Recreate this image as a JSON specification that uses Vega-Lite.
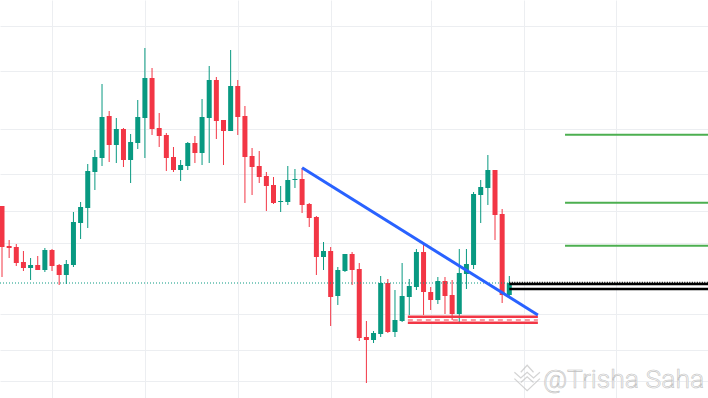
{
  "$schema": "https://vega.github.io/schema/vega-lite/v6.json",
  "width": 708,
  "height": 398,
  "autosize": {"type": "none"},
  "padding": 0,
  "background": "#ffffff",
  "config": {"view": {"stroke": null}},
  "datasets": {
    "candles": [
      {"t":0,"o":194,"h":194,"l":123,"c":153},
      {"t":1,"o":154,"h":160,"l":142,"c":152},
      {"t":2,"o":153,"h":156,"l":134,"c":137},
      {"t":3,"o":138,"h":149,"l":129,"c":132},
      {"t":4,"o":132,"h":142,"l":120,"c":135},
      {"t":5,"o":135,"h":144,"l":130,"c":130},
      {"t":6,"o":130,"h":152,"l":128,"c":150},
      {"t":7,"o":150,"h":151,"l":129,"c":134},
      {"t":8,"o":135,"h":136,"l":115,"c":125},
      {"t":9,"o":125,"h":140,"l":116,"c":136},
      {"t":10,"o":135,"h":188,"l":133,"c":178},
      {"t":11,"o":177,"h":198,"l":161,"c":193},
      {"t":12,"o":192,"h":236,"l":172,"c":229},
      {"t":13,"o":228,"h":250,"l":210,"c":243},
      {"t":14,"o":242,"h":316,"l":234,"c":283},
      {"t":15,"o":284,"h":289,"l":238,"c":255},
      {"t":16,"o":255,"h":282,"l":237,"c":271},
      {"t":17,"o":271,"h":272,"l":233,"c":240},
      {"t":18,"o":240,"h":266,"l":217,"c":258},
      {"t":19,"o":257,"h":300,"l":251,"c":283},
      {"t":20,"o":282,"h":352,"l":242,"c":322},
      {"t":21,"o":322,"h":332,"l":265,"c":271},
      {"t":22,"o":272,"h":287,"l":253,"c":264},
      {"t":23,"o":265,"h":267,"l":229,"c":242},
      {"t":24,"o":243,"h":253,"l":228,"c":230},
      {"t":25,"o":230,"h":240,"l":219,"c":235},
      {"t":26,"o":234,"h":258,"l":230,"c":257},
      {"t":27,"o":257,"h":264,"l":237,"c":247},
      {"t":28,"o":247,"h":301,"l":235,"c":283},
      {"t":29,"o":282,"h":334,"l":237,"c":320},
      {"t":30,"o":320,"h":323,"l":261,"c":279},
      {"t":31,"o":280,"h":280,"l":235,"c":269},
      {"t":32,"o":269,"h":350,"l":269,"c":314},
      {"t":33,"o":314,"h":320,"l":265,"c":283},
      {"t":34,"o":284,"h":294,"l":197,"c":243},
      {"t":35,"o":244,"h":252,"l":205,"c":233},
      {"t":36,"o":234,"h":249,"l":217,"c":223},
      {"t":37,"o":224,"h":228,"l":189,"c":214},
      {"t":38,"o":215,"h":223,"l":196,"c":197},
      {"t":39,"o":198,"h":214,"l":188,"c":199},
      {"t":40,"o":198,"h":234,"l":195,"c":220},
      {"t":41,"o":220,"h":231,"l":212,"c":221},
      {"t":42,"o":221,"h":232,"l":187,"c":195},
      {"t":43,"o":196,"h":197,"l":173,"c":182},
      {"t":44,"o":183,"h":184,"l":125,"c":143},
      {"t":45,"o":143,"h":158,"l":130,"c":149},
      {"t":46,"o":149,"h":153,"l":74,"c":103},
      {"t":47,"o":104,"h":133,"l":95,"c":130},
      {"t":48,"o":129,"h":146,"l":128,"c":146},
      {"t":49,"o":146,"h":148,"l":115,"c":130},
      {"t":50,"o":131,"h":137,"l":59,"c":62},
      {"t":51,"o":63,"h":79,"l":17,"c":60},
      {"t":52,"o":60,"h":69,"l":57,"c":67},
      {"t":53,"o":66,"h":124,"l":63,"c":117},
      {"t":54,"o":117,"h":121,"l":67,"c":68},
      {"t":55,"o":68,"h":110,"l":63,"c":80},
      {"t":56,"o":79,"h":137,"l":78,"c":104},
      {"t":57,"o":103,"h":121,"l":85,"c":114},
      {"t":58,"o":113,"h":151,"l":110,"c":148},
      {"t":59,"o":148,"h":156,"l":85,"c":108},
      {"t":60,"o":108,"h":113,"l":90,"c":100},
      {"t":61,"o":100,"h":123,"l":96,"c":119},
      {"t":62,"o":119,"h":123,"l":86,"c":104},
      {"t":63,"o":105,"h":120,"l":80,"c":86},
      {"t":64,"o":86,"h":151,"l":78,"c":127},
      {"t":65,"o":126,"h":151,"l":111,"c":136},
      {"t":66,"o":135,"h":208,"l":131,"c":206},
      {"t":67,"o":205,"h":220,"l":177,"c":213},
      {"t":68,"o":212,"h":245,"l":195,"c":230},
      {"t":69,"o":230,"h":230,"l":160,"c":185},
      {"t":70,"o":186,"h":191,"l":97,"c":105},
      {"t":71,"o":105,"h":124,"l":103,"c":117}
    ],
    "targets": [
      {"x1": 78.8, "x2": 98.81, "y": 265.3},
      {"x1": 78.8, "x2": 98.81, "y": 197.3},
      {"x1": 78.8, "x2": 98.81, "y": 154.3}
    ],
    "blackLines": [
      {"x1": 71, "x2": 98.81, "y": 116},
      {"x1": 71, "x2": 98.81, "y": 111}
    ],
    "priceTeal": [{"x1": -0.28, "x2": 71, "y": 117}],
    "priceBlack": [{"x1": 71, "x2": 98.81, "y": 117.6}],
    "supportSolid": [
      {"x1": 56.8, "x2": 75.0, "y": 83.3},
      {"x1": 56.8, "x2": 75.0, "y": 77.3}
    ],
    "supportDashed": [{"x1": 56.8, "x2": 75.0, "y": 80}],
    "trend": [{"x1": 42, "y1": 232.3, "x2": 75.0, "y2": 85}],
    "mark": [{"x": 75.7, "y": 12, "label": "@Trisha Saha"}],
    "logo": [{"x": 73.5, "y": 22}]
  },
  "layer": [
    {
      "data": {"name": "candles"},
      "mark": {"type": "rule", "strokeWidth": 1},
      "encoding": {
        "x": {"field": "t", "type": "quantitative",
              "scale": {"domain": [-0.28, 98.81], "nice": false, "zero": false, "padding": 0},
              "axis": {"values": [7, 20, 33, 46, 60, 73, 86], "grid": true, "gridColor": "#eceef1", "gridWidth": 1, "labels": false, "ticks": false, "domain": false, "title": null}},
        "y": {"field": "l", "type": "quantitative",
              "scale": {"domain": [2, 400], "nice": false, "zero": false, "padding": 0},
              "axis": {"values": [374, 329, 271, 226, 189, 157, 86, 50, 19], "grid": true, "gridColor": "#eceef1", "gridWidth": 1, "labels": false, "ticks": false, "domain": false, "title": null}},
        "y2": {"field": "h"},
        "color": {"condition": {"test": "datum.c >= datum.o", "value": "#089981"}, "value": "#f23645"}
      }
    },
    {
      "data": {"name": "candles"},
      "mark": {"type": "bar", "size": 5, "minBandSize": 1},
      "encoding": {
        "x": {"field": "t", "type": "quantitative"},
        "y": {"field": "o", "type": "quantitative"},
        "y2": {"field": "c"},
        "color": {"condition": {"test": "datum.c >= datum.o", "value": "#089981"}, "value": "#f23645"}
      }
    },
    {
      "data": {"name": "priceTeal"},
      "mark": {"type": "rule", "color": "#089981", "strokeWidth": 1, "strokeDash": [1, 2]},
      "encoding": {"x": {"field": "x1", "type": "quantitative"}, "x2": {"field": "x2"}, "y": {"field": "y", "type": "quantitative"}}
    },
    {
      "data": {"name": "priceBlack"},
      "mark": {"type": "rule", "color": "#000000", "strokeWidth": 1.2, "strokeDash": [1, 1.5]},
      "encoding": {"x": {"field": "x1", "type": "quantitative"}, "x2": {"field": "x2"}, "y": {"field": "y", "type": "quantitative"}}
    },
    {
      "data": {"name": "blackLines"},
      "mark": {"type": "rule", "color": "#000000", "strokeWidth": 2.5},
      "encoding": {"x": {"field": "x1", "type": "quantitative"}, "x2": {"field": "x2"}, "y": {"field": "y", "type": "quantitative"}}
    },
    {
      "data": {"name": "targets"},
      "mark": {"type": "rule", "color": "#4caf50", "strokeWidth": 2},
      "encoding": {"x": {"field": "x1", "type": "quantitative"}, "x2": {"field": "x2"}, "y": {"field": "y", "type": "quantitative"}}
    },
    {
      "data": {"name": "supportSolid"},
      "mark": {"type": "rule", "color": "#f23645", "strokeWidth": 2.5},
      "encoding": {"x": {"field": "x1", "type": "quantitative"}, "x2": {"field": "x2"}, "y": {"field": "y", "type": "quantitative"}}
    },
    {
      "data": {"name": "supportDashed"},
      "mark": {"type": "rule", "color": "#f23645", "strokeWidth": 1.2, "strokeDash": [5, 4]},
      "encoding": {"x": {"field": "x1", "type": "quantitative"}, "x2": {"field": "x2"}, "y": {"field": "y", "type": "quantitative"}}
    },
    {
      "data": {"name": "trend"},
      "mark": {"type": "rule", "color": "#2962ff", "strokeWidth": 3, "strokeCap": "butt"},
      "encoding": {"x": {"field": "x1", "type": "quantitative"}, "y": {"field": "y1", "type": "quantitative"}, "x2": {"field": "x2"}, "y2": {"field": "y2"}}
    },
    {
      "data": {"name": "mark"},
      "mark": {"type": "text", "align": "left", "baseline": "alphabetic", "font": "Roboto", "fontWeight": 300, "fontSize": 26.5, "fill": "#fcfcfc", "stroke": "#c2c2c2", "strokeWidth": 0.6},
      "encoding": {"x": {"field": "x", "type": "quantitative"}, "y": {"field": "y", "type": "quantitative"}, "text": {"field": "label"}}
    },
    {
      "data": {"name": "logo"},
      "mark": {"type": "point", "shape": "M-1,-0.45 L-0.5,0 L0,-0.45 L0.5,0 L1,-0.45 M-1,0.05 L0,1 L1,0.05 M-0.5,-0.45 L0,-1 L0.5,-0.45 M-0.5,0.35 L0,-0.1 L0.5,0.35", "size": 650, "filled": false, "stroke": "#c2c2c2", "strokeWidth": 1.2},
      "encoding": {"x": {"field": "x", "type": "quantitative"}, "y": {"field": "y", "type": "quantitative"}}
    }
  ]
}
